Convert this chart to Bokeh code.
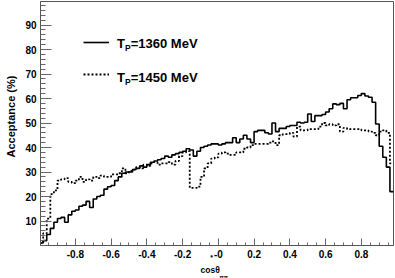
import math
from bokeh.plotting import figure
from bokeh.models import FixedTicker, Label, Legend, LegendItem, Range1d, Title
from bokeh.embed import file_html
from bokeh.resources import INLINE

# ---------------- data ----------------
# histogram bin edges in cos(theta*) (bins of 0.02 from -1.00 to 0.98)
bin_edges = [round(-1.0 + 0.02 * i, 2) for i in range(100)]

# acceptance (%) per bin, T_P = 1360 MeV (solid)
acc_1360 = [1, 2, 4.5, 7, 9.5, 11, 11.5, 9.5, 12.5, 14,
            14.5, 16, 16.5, 18, 15.5, 19, 20, 20.5, 23, 24,
            24.5, 26.5, 28, 29.5, 30, 30, 31, 31.5, 32.5, 32,
            33, 34, 34.5, 35, 35.5, 36.5, 36, 37, 37.5, 38,
            38.5, 39.5, 39, 36.5, 38.5, 40, 40.5, 41, 41.5, 41.5,
            41, 41.5, 42, 42, 44, 42, 43.5, 45, 43.5, 42,
            46.5, 47, 47, 46, 45.5, 50, 46.5, 47.8, 47.8, 48.6,
            49, 49, 50.3, 50, 50.3, 53.7, 50.6, 53, 53, 53.5,
            54.5, 55.8, 57.8, 57.5, 58, 55.8, 59.5, 60.3, 60.3, 61.2,
            62, 61, 60.5, 58.5, 49.6, 40.5, 36, 32, 22]

# acceptance (%) per bin, T_P = 1450 MeV (dotted)
acc_1450 = [1, 5, 11, 21, 22.5, 26.5, 27, 27.5, 26, 25.5,
            26.5, 28, 26, 27, 26.5, 28, 27.5, 28.5, 28, 28,
            29, 29, 29.5, 31.5, 29.5, 30.5, 31, 32, 31.5, 33,
            32.5, 33.5, 34, 33, 33.5, 33.5, 34, 33, 34.5, 36.5,
            38, 38.5, 23.5, 23.5, 24, 28, 31.5, 33.5, 35.5, 36,
            37.5, 38, 37.5, 37, 37, 38, 38, 39.5, 40, 41,
            41.5, 41.5, 41.5, 41.5, 42, 42.5, 41, 45, 45.5, 45.5,
            46, 44.5, 48.5, 47, 47, 47.5, 47.5, 47.5, 48.5, 50,
            49, 49.5, 49, 49.5, 46.5, 48, 47.5, 47.5, 47.5, 47.5,
            47, 47, 46.5, 46, 45, 46.5, 47, 46, 33.5]

x_ticks = [-0.8, -0.6, -0.4, -0.2, 0.0, 0.2, 0.4, 0.6, 0.8]
x_tick_labels = ["-0.8", "-0.6", "-0.4", "-0.2", "-0", "0.2", "0.4", "0.6", "0.8"]
x_minor_ticks = [round(-1.0 + 0.05 * i, 2) for i in range(41)]
y_ticks = [10, 20, 30, 40, 50, 60, 70, 80, 90]
y_minor_ticks = list(range(0, 101, 2))

legend_energies = ["=1360 MeV", "=1450 MeV"]
y_title = "Acceptance (%)"

FONT = "Liberation Sans"
FRAME = "#555555"
TICK = "#666666"

# ---------------- figure ----------------
p = figure(width=395, height=278, output_backend="svg", toolbar_location=None,
           x_range=Range1d(-0.995, 0.98), y_range=Range1d(0, 99.6),
           min_border_left=40, min_border_right=2, min_border_top=1,
           min_border_bottom=33)
p.background_fill_color = "white"
p.border_fill_color = "white"
p.outline_line_color = FRAME
p.outline_line_width = 1
p.xgrid.visible = False
p.ygrid.visible = False

xs = list(bin_edges)
r1 = p.step(xs, acc_1360 + [acc_1360[-1]], mode="after",
            line_color="black", line_width=1.6)
r2 = p.step(xs, acc_1450 + [acc_1450[-1]], mode="after",
            line_color="black", line_width=1.8, line_dash="2 2")

# axes
p.xaxis.ticker = FixedTicker(ticks=x_ticks, minor_ticks=x_minor_ticks)
p.xaxis.major_label_overrides = dict(zip(x_ticks, x_tick_labels))
p.yaxis.ticker = FixedTicker(ticks=y_ticks, minor_ticks=y_minor_ticks)
for ax in (p.xaxis[0], p.yaxis[0]):
    ax.axis_label = None
    ax.major_tick_out = 0
    ax.minor_tick_out = 0
    ax.axis_line_color = FRAME
    ax.major_tick_line_color = TICK
    ax.minor_tick_line_color = TICK
    ax.major_label_text_font = FONT
    ax.major_label_text_font_style = "bold"
    ax.major_label_text_font_size = "10px"
    ax.major_label_text_color = "black"
p.yaxis.major_tick_in = 11
p.yaxis.minor_tick_in = 5
p.yaxis.major_label_standoff = 4
p.xaxis.major_tick_in = 7
p.xaxis.minor_tick_in = 3
p.xaxis.major_label_standoff = 4


def make_text(txt, x, y, size, **kw):
    return Label(x=x, y=y, x_units="screen", y_units="screen", text=txt,
                 text_font=FONT, text_font_style="bold",
                 text_font_size=size, text_color="black", **kw)


# superscript star of the x title (side panel, so it is not clipped)
p.add_layout(make_text("*", 192, -12, "7px", text_align="center",
                       text_baseline="middle"), "left")

# y-axis title (left side panel)
p.add_layout(Title(text=y_title, align="left", offset=88, vertical_align="top",
                   standoff=2, text_font=FONT, text_font_style="bold",
                   text_font_size="11px", text_color="black"), "left")

# legend line samples (drawn from the renderers themselves)
legend = Legend(items=[LegendItem(label=" ", renderers=[r1]),
                       LegendItem(label=" ", renderers=[r2])],
                location=(42.5, 166.5), glyph_width=26, glyph_height=10,
                label_height=10, label_width=1, label_text_font_size="1px",
                label_standoff=0, spacing=22, padding=0, margin=0,
                border_line_alpha=0, background_fill_alpha=0)
p.add_layout(legend)

# legend texts: T_P=...
for base, energy in zip([201.7, 168.0], legend_energies):
    p.add_layout(make_text("T", 76.5, base, "13px", text_baseline="alphabetic"))
    p.add_layout(make_text("P", 84.5, base - 4, "8.5px", text_baseline="alphabetic"))
    p.add_layout(make_text(energy, 90.2, base, "13px", text_baseline="alphabetic"))

# x-axis title: cos(theta) with subscript, placed in side panels below the axis
p.add_layout(make_text("cos\u03b8", 160, 1, "8.5px", text_baseline="alphabetic"), "below")
p.add_layout(make_text("\u03c0\u03c0", 179, 0, "5.5px", text_baseline="alphabetic"), "below")

open("out.html", "w").write(file_html(p, INLINE))
